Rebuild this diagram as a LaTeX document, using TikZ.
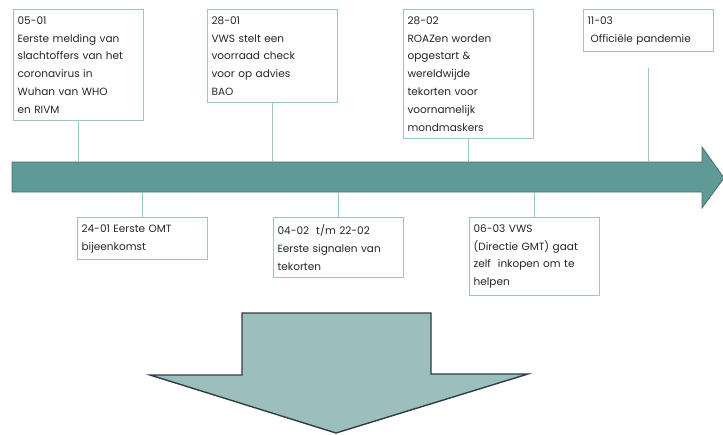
\documentclass[tikz,border=0pt]{standalone}
\usepackage{fontspec}
\setmainfont{Poppins}
\usepackage{tikz}
\usetikzlibrary{calc}
\definecolor{ink}{HTML}{262626}
\definecolor{frame}{HTML}{9CC6C6}
\definecolor{barfill}{HTML}{5F9A96}
\definecolor{bardraw}{HTML}{45716F}
\definecolor{downfill}{HTML}{9CBEBD}
\definecolor{downdraw}{HTML}{2F3E46}
\tikzset{
  event/.style={draw=frame, line width=1.2pt, fill=white, anchor=north west, text=ink,
    text width=122pt, align=left, inner xsep=4pt, inner ysep=7pt,
    font=\fontsize{10.5}{17.8}\selectfont},
  tick/.style={draw=frame, line width=1.2pt},
  bar/.style={fill=barfill, draw=bardraw, line width=0.8pt},
  down/.style={fill=downfill, draw=downdraw, line width=1.4pt, line join=miter},
}

\begin{document}
\begin{tikzpicture}[x=1pt,y=-1pt]
  \useasboundingbox (0,0) rectangle (723,434);
  % timeline
  \draw[bar] (12,162) -- (702,162) -- (702,147) -- (724,178) -- (702,208)
    -- (702,192) -- (12,192) -- cycle;
  \coordinate (bartop) at (0,162);
  \coordinate (barbot) at (0,192);

  % events above the line
  \node[event] (e0501) at (13,9) {05-01\\Eerste melding van\\slachtoffers van het\\coronavirus in\\Wuhan van WHO\\en RIVM};
  \node[event] (e2801) at (207,9) {28-01\\VWS stelt een\\voorraad check\\voor op advies\\BAO};
  \node[event] (e2802) at (403,9) {28-02\\ROAZen worden\\opgestart \&\\wereldwijde\\tekorten voor\\voornamelijk\\mondmaskers};
  \node[event] (e1103) at (583,9) {11-03\\\hspace*{3pt}Officiële pandemie};

  % events below the line
  \node[event] (e2401) at (77,217) {24-01 Eerste OMT\\bijeenkomst};
  \node[event] (e0402) at (273,217) {04-02~ t/m 22-02\\Eerste signalen van\\tekorten};
  \node[event] (e0603) at (469,217) {06-03 VWS\\(Directie GMT) gaat\\zelf~ inkopen om te\\helpen};

  \foreach \e in {e0501,e2801,e2802}{
    \draw[tick] (\e.south) -- (\e.south |- bartop);
  }
  \draw[tick, shorten <=16pt] (e1103.south) -- (e1103.south |- bartop);
  \foreach \e in {e2401,e0402,e0603}{
    \draw[tick] (\e.north) -- (\e.north |- barbot);
  }

  % big arrow
  \draw[down] (242,313) -- (431,313) -- (431,374) -- (528,374) -- (336,433)
    -- (150,375) -- (242,375) -- cycle;
\end{tikzpicture}
\end{document}
